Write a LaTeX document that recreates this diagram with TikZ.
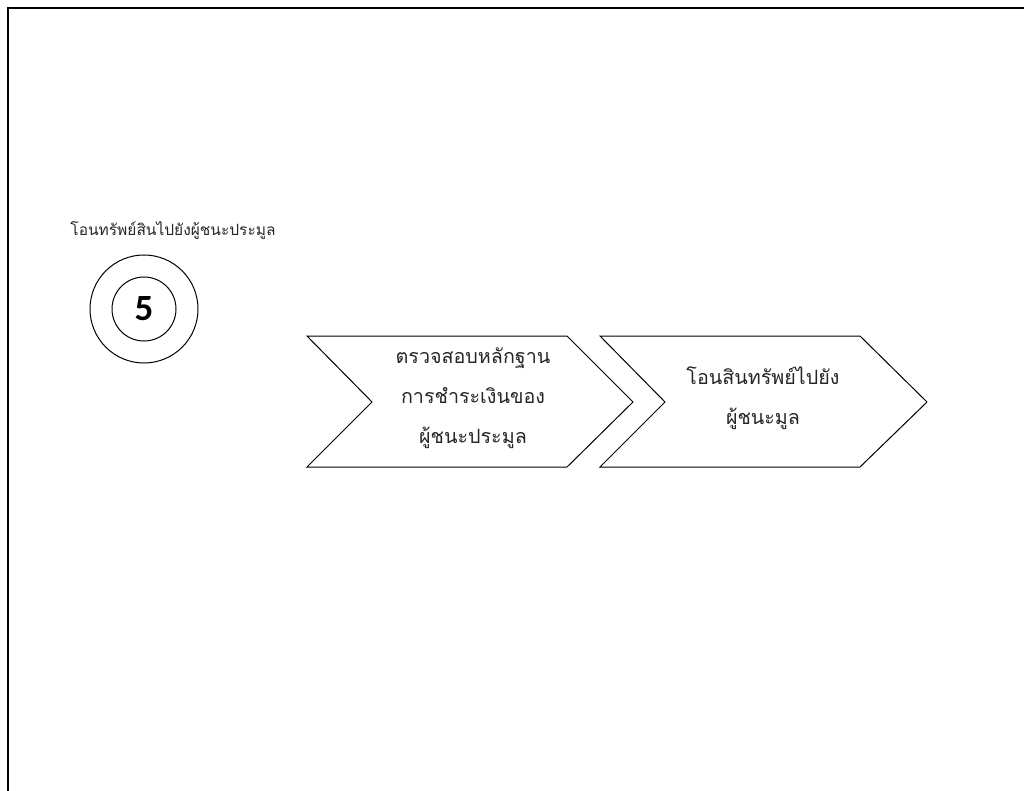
\documentclass[tikz,border=0pt]{standalone}
\usepackage{fontspec}
\newfontfamily\thaifont[Script=Thai]{Loma}
\newfontfamily\numfont{Carlito}
\begin{document}
\begin{tikzpicture}[x=1pt,y=-1pt,
  outline/.style={draw=black,line width=1pt},
  steptext/.style={align=center,font=\thaifont\fontsize{19.7}{40}\selectfont,text=black!85},
  caption/.style={font=\thaifont\fontsize{15.5}{18}\selectfont,text=black!85}]
\useasboundingbox (0,0) rectangle (1024,791);
% page frame
\draw[line width=2pt] (7.5,800) -- (7.5,8.5) -- (1030,8.5);
% step marker
\node[circle,outline,minimum size=108pt,inner sep=0pt] (outer) at (144,309) {};
\node[circle,outline,minimum size=64pt,inner sep=0pt] (inner) at (144,309)
  {\numfont\bfseries\fontsize{37}{37}\selectfont 5};
\node[caption] (cap) at (173,231) {โอนทรัพย์สินไปยังผู้ชนะประมูล};
% process chevrons
\draw[outline] (307,336) -- (567,336) -- (633,402) -- (567,467) -- (307,467) -- (372,402) -- cycle;
\draw[outline] (600,336) -- (860,336) -- (927,402) -- (860,467) -- (600,467) -- (665,402) -- cycle;
\node[steptext] (s1) at (473,398) {ตรวจสอบหลักฐาน\\การชำระเงินของ\\ผู้ชนะประมูล};
\node[steptext] (s2) at (763,398) {โอนสินทรัพย์ไปยัง\\ผู้ชนะมูล};
\end{tikzpicture}
\end{document}
